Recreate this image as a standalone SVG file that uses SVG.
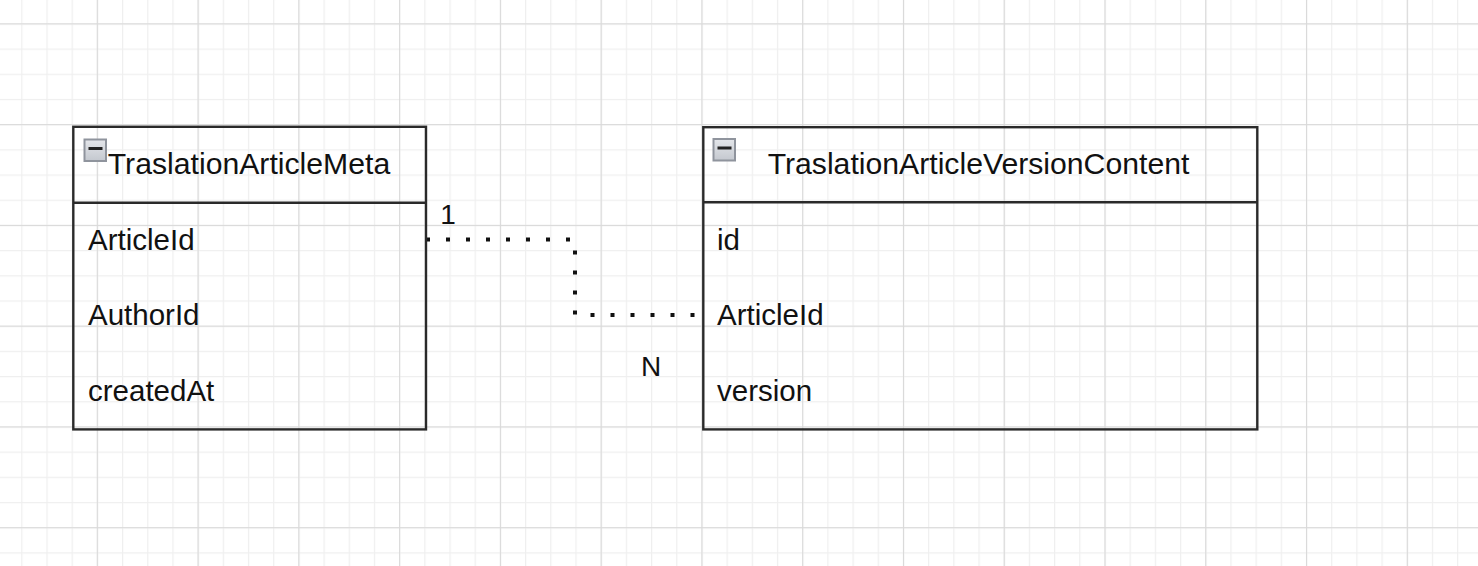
<svg xmlns="http://www.w3.org/2000/svg" width="1478" height="566" viewBox="0 0 1478 566">
  <defs>
    <pattern id="minor" patternUnits="userSpaceOnUse" x="21.23" y="23.35" width="25.19" height="25.19">
      <rect x="0" y="0" width="1.2" height="25.19" fill="#efefef"/>
      <rect x="0" y="0" width="25.19" height="1.2" fill="#efefef"/>
    </pattern>
    <pattern id="major" patternUnits="userSpaceOnUse" x="-3.97" y="23.35" width="100.77" height="100.77">
      <rect x="0" y="0" width="1.1" height="100.77" fill="#d9d9d9"/>
      <rect x="0" y="0" width="100.77" height="1.1" fill="#d9d9d9"/>
    </pattern>
    <linearGradient id="iconGrad" x1="0" y1="0" x2="0" y2="1">
      <stop offset="0" stop-color="#e4e6ea"/>
      <stop offset="1" stop-color="#c4c8cf"/>
    </linearGradient>
    <g id="collapse">
      <rect x="1" y="1" width="21.5" height="21.5" fill="url(#iconGrad)" stroke="#8f949d" stroke-width="2"/>
      <rect x="5" y="8.5" width="14" height="3" fill="#222"/>
    </g>
  </defs>
  <style>
    .box { fill: none; stroke: #2a2a2a; stroke-width: 2.4; }
    .sep { stroke: #2a2a2a; stroke-width: 2.4; }
    .title { font-family: "Liberation Sans", Arial, Helvetica, sans-serif; font-size: 30.2px; fill: #111; text-anchor: middle; }
    .attr { font-family: "Liberation Sans", Arial, Helvetica, sans-serif; font-size: 29.5px; fill: #111; }
    .lbl { font-family: "Liberation Sans", Arial, Helvetica, sans-serif; font-size: 28px; fill: #111; text-anchor: middle; }
    .conn { fill: none; stroke: #111; stroke-width: 4; stroke-dasharray: 4 16; }
  </style>

  <rect x="0" y="0" width="1478" height="566" fill="#ffffff"/>
  <rect x="0" y="0" width="1478" height="566" fill="url(#minor)"/>
  <rect x="0" y="0" width="1478" height="566" fill="url(#major)"/>

  <g id="connectors">
    <path class="conn" d="M426,239.5 H575 V315 H703"/>
    <text class="lbl" x="448" y="224">1</text>
    <text class="lbl" x="651" y="376">N</text>
  </g>

  <g id="TraslationArticleMeta">
    <rect class="box" x="73.3" y="126.8" width="352.7" height="302.6"/>
    <line class="sep" x1="73.3" y1="202.7" x2="426" y2="202.7"/>
    <use href="#collapse" x="83.5" y="138.5"/>
    <text class="title" x="249" y="174">TraslationArticleMeta</text>
    <text class="attr" x="88" y="249.5">ArticleId</text>
    <text class="attr" x="88" y="325">AuthorId</text>
    <text class="attr" x="88" y="400.5">createdAt</text>
  </g>

  <g id="TraslationArticleVersionContent">
    <rect class="box" x="703.3" y="127.2" width="554" height="302.2"/>
    <line class="sep" x1="703.3" y1="202.3" x2="1257.3" y2="202.3"/>
    <use href="#collapse" x="712.5" y="138"/>
    <text class="title" x="978.5" y="174">TraslationArticleVersionContent</text>
    <text class="attr" x="717" y="249.5">id</text>
    <text class="attr" x="717" y="325">ArticleId</text>
    <text class="attr" x="717" y="400.5">version</text>
  </g>
</svg>
